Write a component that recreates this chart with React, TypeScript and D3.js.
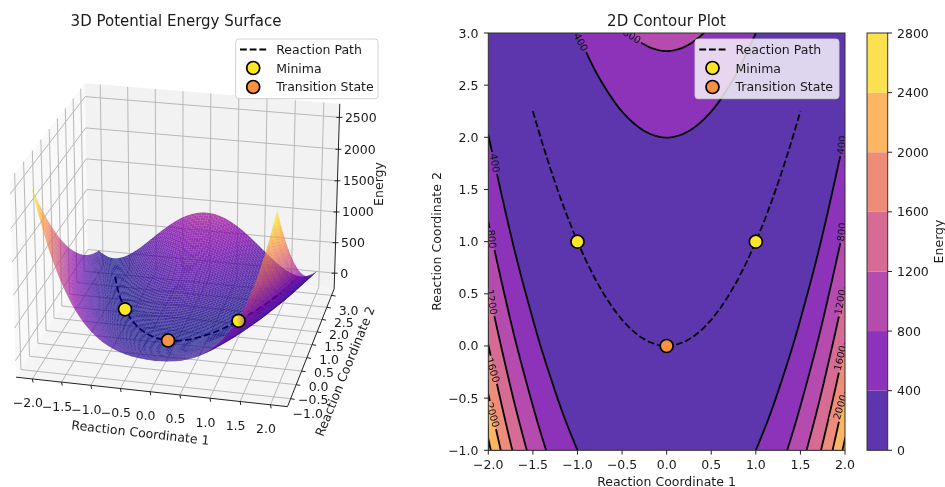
import React from "react";
import * as d3 from "d3";

// Energy read on a 0.25 grid: rows y = -1 … 3, columns |x| = 0 … 2 (the surface is mirror-symmetric in x)
const energyRows: number[][] = [
  [101, 114, 157, 244, 400, 657, 1058, 1655, 2509],
  [57, 67, 101, 172, 306, 535, 902, 1458, 2265],
  [26, 32, 57, 113, 225, 426, 758, 1273, 2034],
  [7, 11, 26, 66, 156, 329, 627, 1102, 1815],
  [1, 1, 7, 32, 100, 244, 508, 942, 1609],
  [7, 4, 1, 10, 56, 173, 402, 795, 1415],
  [26, 20, 7, 1, 25, 113, 308, 661, 1234],
  [57, 48, 26, 4, 6, 66, 227, 539, 1065],
  [101, 89, 57, 19, 0, 32, 158, 430, 909],
  [157, 142, 101, 47, 6, 10, 102, 333, 765],
  [226, 207, 157, 88, 25, 1, 58, 248, 634],
  [307, 286, 226, 141, 56, 4, 27, 177, 515],
  [401, 376, 307, 207, 100, 19, 8, 117, 409],
  [507, 479, 401, 285, 156, 48, 2, 70, 315],
  [626, 595, 507, 376, 225, 88, 8, 36, 234],
  [757, 723, 626, 479, 306, 141, 27, 14, 165],
  [901, 864, 757, 594, 400, 207, 58, 5, 109],
];
const pathX = [-1.5, -1.4, -1.3, -1.2, -1.1, -1, -0.9, -0.8, -0.7, -0.6, -0.5, -0.4, -0.3, -0.2, -0.1, 0, 0.1, 0.2, 0.3, 0.4, 0.5, 0.6, 0.7, 0.8, 0.9, 1, 1.1, 1.2, 1.3, 1.4, 1.5];
const pathY = [2.25, 1.96, 1.69, 1.44, 1.21, 1, 0.81, 0.64, 0.49, 0.36, 0.25, 0.16, 0.09, 0.04, 0.01, 0, 0.01, 0.04, 0.09, 0.16, 0.25, 0.36, 0.49, 0.64, 0.81, 1, 1.21, 1.44, 1.69, 1.96, 2.25];
const minimaX = [-1, 1];
const minimaY = [1, 1];
const minimaE = [0, 0];
const tsX = [0];
const tsY = [0];
const tsE = [1];
const levels = [0, 400, 800, 1200, 1600, 2000, 2400, 2800];
const xTicks2D = [-2, -1.5, -1, -0.5, 0, 0.5, 1, 1.5, 2];
const yTicks2D = [-1, -0.5, 0, 0.5, 1, 1.5, 2, 2.5, 3];
const zTicks3D = [0, 500, 1000, 1500, 2000, 2500];
// contour label anchors in page pixels: text, x, y, rotation
const contourLabels: [string, number, number, number][] = [
  ["400", 495, 163, 80],
  ["800", 492, 239, 84],
  ["1200", 492, 302, 80],
  ["1600", 493, 370, 73],
  ["2000", 493, 415, 74],
  ["400", 581, 42, 62],
  ["800", 632, 36, 32],
  ["400", 841.5, 145, -84],
  ["800", 841.5, 232, -84],
  ["1200", 840, 302, -80],
  ["1600", 840, 358, -76],
  ["2000", 840, 407, -73],
];

const FONT = "'DejaVu Sans', sans-serif";
const TXT = "#1a1a1a";
const FS = 12.5;
const fmt = (v: number) => (v < 0 ? "\u2212" : "") + Math.abs(v).toFixed(1);

// table → resampled field
const full: number[][] = energyRows.map((r) => [...r.slice(1).reverse(), ...r]);
const ext = (a: number[]) => [3 * a[0] - 3 * a[1] + a[2], ...a, 3 * a[a.length - 1] - 3 * a[a.length - 2] + a[a.length - 3]];
const rowsExt = full.map(ext);
const colsExt = rowsExt[0].map((_, i) => ext(rowsExt.map((r) => r[i])));
const cr = (p: number[], t: number) =>
  0.5 * (2 * p[1] + (p[2] - p[0]) * t + (2 * p[0] - 5 * p[1] + 4 * p[2] - p[3]) * t * t + (3 * p[1] - p[0] - 3 * p[2] + p[3]) * t * t * t);
function energyAt(x: number, y: number) {
  const fx = Math.min((x + 2) / 0.25, 15.9999), fy = Math.min((y + 1) / 0.25, 15.9999);
  const i = Math.floor(fx), j = Math.floor(fy);
  const col = [0, 1, 2, 3].map((k) => {
    const c = colsExt[i + k];
    return cr([c[j], c[j + 1], c[j + 2], c[j + 3]], fy - j);
  });
  return cr(col, fx - i);
}

const plasma = (v: number) => d3.interpolatePlasma(Math.max(0, Math.min(1, v)));
const blend = (c: string) => {
  const r = d3.rgb(c);
  return d3.rgb(r.r * 0.8 + 51, r.g * 0.8 + 51, r.b * 0.8 + 51).formatHex();
};
const bandColors = levels.slice(0, -1).map((l, i) => blend(plasma((l + levels[i + 1]) / 2 / 2800)));

// 2D panel
const L = 488.3, R = 845, T = 33, B = 450.3;
const sx = d3.scaleLinear().domain([-2, 2]).range([L, R]);
const sy = d3.scaleLinear().domain([-1, 3]).range([B, T]);
const N = 201;
const field = new Array(N * N);
for (let j = 0; j < N; j++) for (let i = 0; i < N; i++) field[j * N + i] = energyAt(-2 + (4 * i) / (N - 1), -1 + (4 * j) / (N - 1));
const gen = d3.geoPath(
  d3.geoTransform({
    point(x: number, y: number) {
      (this as any).stream.point(sx(-2 + ((x - 0.5) * 4) / (N - 1)), sy(-1 + ((y - 0.5) * 4) / (N - 1)));
    },
  })
);
const contourGen = d3.contours().size([N, N]).smooth(true);
const fillPaths = levels.slice(0, -1).map((l, i) => ({ d: gen(contourGen.contour(field, l === 0 ? -1e6 : l) as any) as string, c: bandColors[i] }));
const linePaths = levels.slice(1, -1).map((l) => gen(contourGen.contour(field, l) as any) as string);
const path2D = d3.line<number>().x((_, i) => sx(pathX[i])).y((_, i) => sy(pathY[i]))(pathX) as string;

// 3D projection
const ELEV = (24 * Math.PI) / 180, AZIM = (-77 * Math.PI) / 180;
const xl = [-2.28, 2.28], yl = [-1.28, 3.28], zl = [-260, 2710];
const asp = [4, 4, 3.1].map((v) => (v * 1.8294640721620434 * (25 / 24)) / Math.hypot(4, 4, 3));
const C3 = asp.map((v) => v / 2);
const wv = [Math.cos(ELEV) * Math.cos(AZIM), Math.cos(ELEV) * Math.sin(AZIM), Math.sin(ELEV)];
const eye = C3.map((v, i) => v + 10 * wv[i]);
const uv = [-Math.sin(AZIM), Math.cos(AZIM), 0];
const vv = [wv[1] * uv[2] - wv[2] * uv[1], wv[2] * uv[0] - wv[0] * uv[2], wv[0] * uv[1] - wv[1] * uv[0]];
const S3 = 2266, CX3 = 181.5, CY3 = 237.5;
function proj(x: number, y: number, z: number) {
  const p = [((x - xl[0]) / (xl[1] - xl[0])) * asp[0], ((y - yl[0]) / (yl[1] - yl[0])) * asp[1], ((z - zl[0]) / (zl[1] - zl[0])) * asp[2]].map((v, i) => v - eye[i]);
  const dot = (a: number[]) => a[0] * p[0] + a[1] * p[1] + a[2] * p[2];
  const d = -dot(wv);
  return { x: CX3 + (S3 * dot(uv)) / d, y: CY3 - (S3 * dot(vv)) / d, d };
}
const poly = (pts: number[][]) => pts.map((q) => { const p = proj(q[0], q[1], q[2]); return `${p.x.toFixed(2)},${p.y.toFixed(2)}`; }).join(" ");
const seg = (a: number[], b: number[]) => { const p = proj(a[0], a[1], a[2]), q = proj(b[0], b[1], b[2]); return { x1: p.x, y1: p.y, x2: q.x, y2: q.y }; };

const M = 90;
const faces: { pts: string; c: string; d: number }[] = [];
const gx = (i: number) => -2 + (4 * i) / M, gy = (j: number) => -1 + (4 * j) / M;
for (let j = 0; j < M; j++)
  for (let i = 0; i < M; i++) {
    const q = [[gx(i), gy(j)], [gx(i + 1), gy(j)], [gx(i + 1), gy(j + 1)], [gx(i), gy(j + 1)]].map((a) => [a[0], a[1], energyAt(a[0], a[1])]);
    const avg = (q[0][2] + q[1][2] + q[2][2] + q[3][2]) / 4;
    const dm = q.reduce((s, a) => s + proj(a[0], a[1], a[2]).d, 0) / 4;
    faces.push({ pts: poly(q), c: plasma(avg / 2509), d: dm });
  }
faces.sort((a, b) => b.d - a.d);
const path3D = d3.line<number>().x((_, i) => proj(pathX[i], pathY[i], 1).x).y((_, i) => proj(pathX[i], pathY[i], 1).y)(pathX) as string;

const Marker = ({ x, y, fill }: { x: number; y: number; fill: string }) => <circle cx={x} cy={y} r={6.5} fill={fill} stroke="#000" strokeWidth={1.7} />;
const YEL = "#fde725", ORG = "#f8923f";

function Legend({ x, w }: { x: number; w: number }) {
  return (
    <g fontFamily={FONT} fontSize={FS} fill={TXT}>
      <rect x={x} y={39} width={w} height={59.7} rx={3} fill="#fff" fillOpacity={0.8} stroke="#ccc" strokeWidth={0.9} />
      <line x1={x + 4.3} x2={x + 30.5} y1={49.5} y2={49.5} stroke="#000" strokeWidth={1.8} strokeDasharray="6.8 2.9" />
      <Marker x={x + 17.5} y={68} fill={YEL} />
      <Marker x={x + 17.5} y={87} fill={ORG} />
      <text x={x + 40.5} y={54}>Reaction Path</text>
      <text x={x + 40.5} y={72.5}>Minima</text>
      <text x={x + 40.5} y={91}>Transition State</text>
    </g>
  );
}

export default function App() {
  const x0 = xl[0], x1 = xl[1], y0 = yl[0], y1 = yl[1], z0 = zl[0], z1 = zl[1];
  const m1 = proj(minimaX[0], minimaY[0], minimaE[0]);
  const m2 = proj(minimaX[1], minimaY[1], minimaE[1]);
  const ts = proj(tsX[0], tsY[0], tsE[0]);
  return (
    <svg width={945} height={487} viewBox="0 0 945 487" style={{ position: "absolute", left: 0, top: 0, display: "block", background: "#fff", filter: "blur(0.35px)" }}>
      <defs>
        <clipPath id="ax2"><rect x={L} y={T} width={R - L} height={B - T} /></clipPath>
        <mask id="gaps" maskUnits="userSpaceOnUse" x={0} y={0} width={945} height={487}>
          <rect x={0} y={0} width={945} height={487} fill="#fff" />
          {contourLabels.map(([t, x, y, r], i) => (
            <rect key={i} x={x - (t.length * 6.2 + 4) / 2} y={y - 7} width={t.length * 6.2 + 4} height={14} fill="#000" transform={`rotate(${r} ${x} ${y})`} />
          ))}
        </mask>
        <linearGradient id="m2g" x1="0" x2="1" y1="0" y2="0">
          <stop offset="0.35" stopColor={YEL} />
          <stop offset="1" stopColor="#b98a55" />
        </linearGradient>
      </defs>

      {/* 3D panel */}
      <text x={176} y={26} textAnchor="middle" fontFamily={FONT} fontSize={15} fill={TXT}>3D Potential Energy Surface</text>
      <polygon points={poly([[x0, y0, z0], [x0, y1, z0], [x0, y1, z1], [x0, y0, z1]])} fill="#f9f9f9" />
      <polygon points={poly([[x0, y1, z0], [x1, y1, z0], [x1, y1, z1], [x0, y1, z1]])} fill="#f2f2f2" />
      <polygon points={poly([[x0, y0, z0], [x1, y0, z0], [x1, y1, z0], [x0, y1, z0]])} fill="#f5f5f5" />
      <g stroke="#b8b8b8" strokeWidth={1} fill="none">
        {xTicks2D.map((t) => <polyline key={t} points={poly([[t, y0, z0], [t, y1, z0], [t, y1, z1]])} />)}
        {yTicks2D.map((t) => <polyline key={t} points={poly([[x1, t, z0], [x0, t, z0], [x0, t, z1]])} />)}
        {zTicks3D.map((t) => <polyline key={t} points={poly([[x0, y0, t], [x0, y1, t], [x1, y1, t]])} />)}
      </g>
      <g stroke="#222" strokeWidth={1}>
        <line {...seg([x0, y0, z0], [x1, y0, z0])} />
        <line {...seg([x1, y0, z0], [x1, y1, z0])} />
        <line {...seg([x1, y1, z0], [x1, y1, z1])} />
        {xTicks2D.map((t) => { const p = proj(t, y0, z0); return <line key={t} x1={p.x} y1={p.y} x2={p.x + 0.7} y2={p.y + 3.5} />; })}
        {yTicks2D.map((t) => { const p = proj(x1, t, z0); return <line key={t} x1={p.x} y1={p.y} x2={p.x + 4} y2={p.y + 0.7} />; })}
        {zTicks3D.map((t) => { const p = proj(x1, y1, t); return <line key={t} x1={p.x - 3} y1={p.y} x2={p.x + 3} y2={p.y} />; })}
      </g>
      <g fontFamily={FONT} fontSize={FS} fill={TXT} textAnchor="middle">
        {xTicks2D.map((t) => { const p = proj(t, y0, z0); return <text key={t} x={p.x - 4.5} y={p.y + 28.5}>{fmt(t)}</text>; })}
        {yTicks2D.map((t) => { const p = proj(x1, t, z0); return <text key={t} x={p.x + 17} y={p.y + 19.5}>{fmt(t)}</text>; })}
        {zTicks3D.map((t) => { const p = proj(x1, y1, t); return <text key={t} x={p.x + 5.5} y={p.y + 4.5} textAnchor="start">{t}</text>; })}
        <text transform="translate(140 437) rotate(6.5)">Reaction Coordinate 1</text>
        <text transform="translate(349 373) rotate(-68)">Reaction Coordinate 2</text>
        <text transform="translate(383 184) rotate(-90)">Energy</text>
      </g>
      <path d={path3D} fill="none" stroke="#000" strokeWidth={1.8} strokeDasharray="6.8 2.9" />
      <g>
        {faces.map((f, i) => <polygon key={i} points={f.pts} fill={f.c} fillOpacity={0.8} stroke={f.c} strokeOpacity={0.1} strokeWidth={0.25} />)}
      </g>
      <Marker x={m1.x} y={m1.y} fill={YEL} />
      <Marker x={ts.x} y={ts.y} fill={ORG} />
      <Marker x={m2.x} y={m2.y} fill="url(#m2g)" />
      <Legend x={235.7} w={142.3} />

      {/* 2D panel */}
      <text x={666.5} y={26} textAnchor="middle" fontFamily={FONT} fontSize={15} fill={TXT}>2D Contour Plot</text>
      <g clipPath="url(#ax2)">
        {fillPaths.map((f, i) => <path key={i} d={f.d} fill={f.c} />)}
        <g mask="url(#gaps)" fill="none" stroke="#000" strokeWidth={1.8}>
          {linePaths.map((d, i) => <path key={i} d={d} />)}
        </g>
        <g fontFamily={FONT} fontSize={10} fill="#111" textAnchor="middle">
          {contourLabels.map(([t, x, y, r], i) => (
            <text key={i} transform={`translate(${x} ${y}) rotate(${r})`} dy={3.6}>{t}</text>
          ))}
        </g>
      </g>
      <path d={path2D} fill="none" stroke="#000" strokeWidth={1.8} strokeDasharray="6.8 2.9" />
      <rect x={L} y={T} width={R - L} height={B - T} fill="none" stroke="#333" strokeWidth={1} />
      {minimaX.map((v, i) => <Marker key={i} x={sx(v)} y={sy(minimaY[i])} fill={YEL} />)}
      <Marker x={sx(tsX[0])} y={sy(tsY[0])} fill={ORG} />
      <g stroke="#222" strokeWidth={1}>
        {xTicks2D.map((t) => <line key={t} x1={sx(t)} x2={sx(t)} y1={B} y2={B + 4.3} />)}
        {yTicks2D.map((t) => <line key={t} y1={sy(t)} y2={sy(t)} x1={L} x2={L - 4.3} />)}
      </g>
      <g fontFamily={FONT} fontSize={FS} fill={TXT}>
        {xTicks2D.map((t) => <text key={t} x={sx(t)} y={468.5} textAnchor="middle">{fmt(t)}</text>)}
        {yTicks2D.map((t) => <text key={t} x={478.5} y={sy(t) + 4.5} textAnchor="end">{fmt(t)}</text>)}
        <text x={666.5} y={485.5} textAnchor="middle">Reaction Coordinate 1</text>
        <text transform="translate(441 241.5) rotate(-90)" textAnchor="middle">Reaction Coordinate 2</text>
      </g>
      <Legend x={695} w={144} />

      {/* colour bar */}
      {levels.slice(0, -1).map((l, i) => {
        const sc = d3.scaleLinear().domain([0, 2800]).range([B, T]);
        return <rect key={l} x={867} y={sc(levels[i + 1])} width={20.7} height={sc(l) - sc(levels[i + 1])} fill={bandColors[i]} />;
      })}
      <rect x={867} y={T} width={20.7} height={B - T} fill="none" stroke="#333" strokeWidth={1} />
      <g fontFamily={FONT} fontSize={FS} fill={TXT}>
        {levels.map((l) => {
          const y = d3.scaleLinear().domain([0, 2800]).range([B, T])(l);
          return (
            <g key={l}>
              <line x1={887.7} x2={892} y1={y} y2={y} stroke="#222" strokeWidth={1} />
              <text x={897} y={y + 4.5}>{l}</text>
            </g>
          );
        })}
        <text transform="translate(943 241.5) rotate(-90)" textAnchor="middle">Energy</text>
      </g>
    </svg>
  );
}
